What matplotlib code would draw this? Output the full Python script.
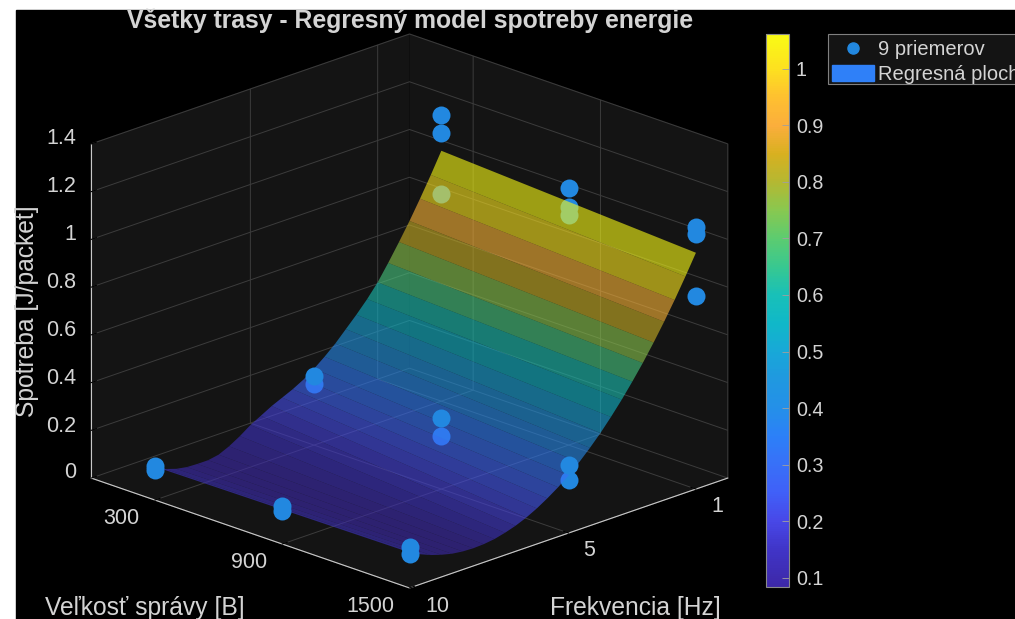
import matplotlib
matplotlib.use('Agg')
import matplotlib.pyplot as plt
import numpy as np
from matplotlib.colors import LinearSegmentedColormap, Normalize
from matplotlib.cm import ScalarMappable
from matplotlib.lines import Line2D
from matplotlib.patches import Patch, Rectangle

# surface
freq_grid = [1, 1.33, 1.67, 2, 2.33, 2.67, 3, 3.33, 3.67, 4, 4.33, 4.67, 5, 5.33,
             5.67, 6, 6.33, 6.67, 7, 7.33, 7.67, 8, 8.33, 8.67, 9, 9.33, 9.67, 10]
size_grid = [300, 1500]
energy_300 = [1.049, .963, .879, .801, .728, .656, .59, .535, .485, .44, .395, .355, .32, .29,
              .265, .245, .225, .2, .176, .145, .118, .098, .09, .09, .092, .10, .115, .14]
energy_1500 = [.99, .906, .823, .747, .675, .605, .542, .482, .425, .373, .326, .281, .242, .207,
               .176, .149, .126, .107, .093, .082, .076, .074, .076, .082, .093, .107, .126, .149]

# points in front of the surface
front_f = [10, 10, 10, 10, 10, 10, 5, 5, 5, 1, 1, 1, 1, 1]
front_s = [300, 300, 900, 900, 1500, 1500, 300, 900, 1500, 300, 300, 900, 1500, 1500]
front_e = [.1425, .126, .159, .138, .172, .142, .289, .298, .285, 1.199, 1.123, 1.077, 1.098, 1.069]
# points behind it
back_f = [5, 5, 5, 1, 1, 1, 1]
back_s = [300, 900, 1500, 300, 900, 900, 1500]
back_e = [.256, .222, .222, .868, .997, .964, .809]

f_ticks = [1, 5, 10]
f_labels = ['1', '5', '10']
s_ticks = [300, 900, 1500]
s_labels = ['300', '900', '1500']
e_ticks = [0, 0.2, 0.4, 0.6, 0.8, 1, 1.2, 1.4]
e_labels = ['0', '0.2', '0.4', '0.6', '0.8', '1', '1.2', '1.4']
cb_ticks = [0.1, 0.2, 0.3, 0.4, 0.5, 0.6, 0.7, 0.8, 0.9, 1]
cb_labels = ['0.1', '0.2', '0.3', '0.4', '0.5', '0.6', '0.7', '0.8', '0.9', '1']

txt = '#d4d4d4'
dot = '#2288e0'
W, H = 1015, 619

plt.rcParams['font.family'] = ['Liberation Sans', 'DejaVu Sans']
plt.rcParams['grid.color'] = '#3c3c3c'
plt.rcParams['grid.linewidth'] = 0.7

vmin, vmax = 0.084, 1.061
stops = [(0.084, '#3d28a8'), (0.15, '#4035c8'), (0.2, '#4848e8'), (0.25, '#4060f8'), (0.3, '#3870f8'),
         (0.35, '#2c80f8'), (0.4, '#2490e8'), (0.45, '#2098e0'), (0.5, '#18a8d8'), (0.55, '#10b8c8'),
         (0.6, '#18c0b8'), (0.65, '#38c890'), (0.7, '#5ccc70'), (0.75, '#88c850'), (0.8, '#b4b832'),
         (0.85, '#d8b020'), (0.9, '#fbae3c'), (0.95, '#fec030'), (1.0, '#fde020'), (1.061, '#f9fb15')]
parula = LinearSegmentedColormap.from_list('parula', [((v-vmin)/(vmax-vmin), c) for v, c in stops])
norm = Normalize(vmin, vmax)
surf_norm = Normalize(0.074, 0.94)

fig = plt.figure(figsize=(W/100, H/100), dpi=100, facecolor='white')
fig.add_artist(Rectangle((16/W, 0), 1-16/W, 1-10/H, transform=fig.transFigure, color='black', zorder=-5))

def px(x, y):
    return x/W, 1-y/H

# 3d box, sized so its corners land where they are in the picture
S = 708
cx, cy = 409.5, 311
ax = fig.add_axes([(cx-0.5135*S)/W, (H-cy-0.5135*S)/H, S/W, S/H], projection='3d',
                  proj_type='ortho', computed_zorder=False)
ax.patch.set_alpha(0)
ax.set_box_aspect((450, 450, 356), zoom=1)
ax.view_init(elev=20.2, azim=45)

F, S_ = np.meshgrid(freq_grid, size_grid)
E = np.array([energy_300, energy_1500])
ax.scatter(back_f, back_s, back_e, s=168, color=dot, alpha=1, depthshade=False, linewidths=0, zorder=1)
surf = ax.plot_surface(F, S_, E, cmap=parula, norm=surf_norm, alpha=0.6, linewidth=0, edgecolor='none',
                       antialiased=True, rstride=1, cstride=1, zorder=2, shade=False)
ax.scatter(front_f, front_s, front_e, s=168, color=dot, alpha=1, depthshade=False, linewidths=0, zorder=3)

ax.set_xlim(0, 10, view_margin=0)
ax.set_ylim(0, 1500, view_margin=0)
ax.set_zlim(0, 1.4, view_margin=0)
ax.set_xticks(f_ticks)
ax.set_yticks(s_ticks)
ax.set_zticks(e_ticks)
ax.set_xticklabels([])
ax.set_yticklabels([])
ax.set_zticklabels([])
for a in (ax.xaxis, ax.yaxis, ax.zaxis):
    a.set_pane_color('#141414')
    a.pane.set_edgecolor('#141414')
    a.line.set_color('#c8c8c8')
    a.line.set_linewidth(0.8)
    a._axinfo['tick']['inward_factor'] = 0
    a._axinfo['tick']['outward_factor'] = 0.2
    a._axinfo['tick']['color'] = '#a0a0a0'
ax.grid(True)

# tick labels sit at fixed spots in the MATLAB layout
for lab, (x, y) in zip(f_labels, [(717, 507), (589.5, 551), (437.5, 606)]):
    fig.text(*px(x, y), lab, color=txt, fontsize=15.5, ha='center', va='center')
for lab, (x, y) in zip(s_labels, [(121, 518), (249, 562), (370, 606)]):
    fig.text(*px(x, y), lab, color=txt, fontsize=15.5, ha='center', va='center')
for lab, y in zip(e_labels, [473, 427, 379, 331, 283, 235, 187, 139]):
    fig.text(*px(76, y), lab, color=txt, fontsize=15.5, ha='right', va='center')

fig.text(*px(144.5, 608), 'Veľkosť správy [B]', color=txt, fontsize=17.7, ha='center', va='center')
fig.text(*px(635, 608), 'Frekvencia [Hz]', color=txt, fontsize=17.7, ha='center', va='center')
fig.text(*px(27, 311), 'Spotreba [J/packet]', color=txt, fontsize=17.7, ha='center', va='center', rotation=90)
fig.text(*px(410, 21), 'Všetky trasy - Regresný model spotreby energie', color=txt, fontsize=17.8,
         fontweight='bold', ha='center', va='center')

cax = fig.add_axes([766/W, 1-587/H, 23/W, 553/H])
cb = fig.colorbar(ScalarMappable(norm=norm, cmap=parula), cax=cax)
cb.set_ticks(cb_ticks)
cb.set_ticklabels(cb_labels)
cb.outline.set_edgecolor('#8a8a8a')
cb.outline.set_linewidth(0.8)
cax.tick_params(color='#a0a0a0', labelcolor=txt, labelsize=14.2, direction='in', length=5, width=0.6, pad=5)

# legend frame drawn apart, the legend's own box comes out too tall
fig.add_artist(Rectangle(px(828, 84), 200/W, 50/H, transform=fig.transFigure, facecolor='#141414',
                         edgecolor='#808080', linewidth=0.8, zorder=2))
handles = [Line2D([], [], ls='none', marker='o', ms=8, color=dot),
           Patch(color='#2f80f8')]
leg = fig.legend(handles, ['9 priemerov', 'Regresná plocha'], loc='upper left',
                 bbox_to_anchor=(828/W, 1-36/H), fontsize=14.5, labelcolor=txt, frameon=False,
                 borderaxespad=0, handlelength=2.1, handleheight=0.85, handletextpad=0.2,
                 borderpad=0.2, labelspacing=0.28)
leg.set_zorder(3)

fig.savefig('out.png', dpi=100, facecolor='white')
